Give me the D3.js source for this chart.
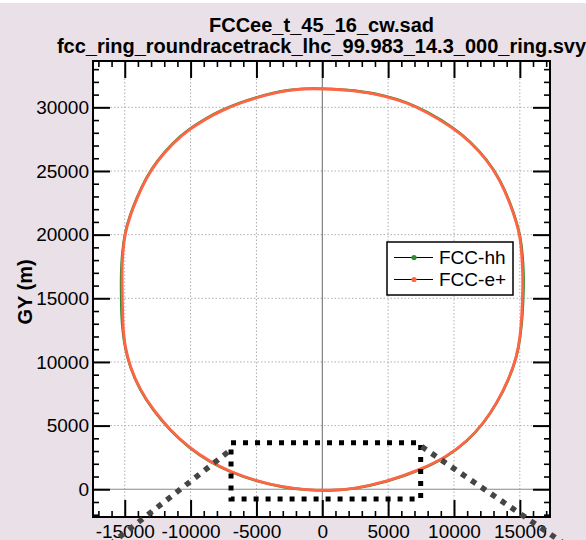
<!DOCTYPE html>
<html>
<head>
<meta charset="utf-8">
<script src="https://cdn.jsdelivr.net/npm/d3@7"></script>
<style>
  body { margin: 0; background: #fff; }
  text { font-family: "Liberation Sans", Arial, sans-serif; }
</style>
</head>
<body>
<div class="canva"></div>
<script>
// ring survey points (m), going clockwise from the top
const ePlusX = [0, 2370, 4900, 6420, 7930, 9950, 11210, 12480, 13490, 14250, 14760, 15010, 15140, 15220,
  15220, 15150, 15020, 14770, 14140, 13250, 12240, 10970, 9450, 7420, 4900, 2360, 580,
  -1180, -2960, -4980, -7010, -8530, -10050, -11570, -12830, -13840, -14600, -14980, -15110, -15160,
  -15190, -15210, -15160, -14980, -14600, -14090, -13330, -12570, -11310, -10050, -8780, -7520, -6250,
  -4980, -3720, -2450, -1440];
const ePlusY = [31460, 31350, 30870, 30350, 29640, 28370, 27310, 25890, 24310, 22480, 20900, 19850, 18540, 17000,
  15650, 13560, 11990, 10420, 8590, 6760, 5180, 3740, 2560, 1520, 600, 20, -100,
  -50, 160, 640, 1380, 2170, 3220, 4660, 6230, 7800, 9630, 11200, 12510, 13560,
  15650, 17000, 18540, 20130, 21460, 22840, 24510, 25730, 27240, 28300, 29140, 29800, 30340,
  30770, 31110, 31350, 31460];

const hhX = [0, 2400, 4930, 6450, 7960, 9980, 11240, 12500, 13510, 14270, 14780, 15040, 15200, 15290,
  15290, 15200, 15040, 14790, 14160, 13270, 12260, 10990, 9470, 7440, 4910, 2370, 580,
  -1180, -2970, -5000, -7030, -8550, -10070, -11590, -12850, -13860, -14620, -15000, -15160, -15250,
  -15280, -15280, -15200, -15000, -14620, -14110, -13350, -12590, -11330, -10080, -8810, -7550, -6280,
  -5000, -3740, -2460, -1440];
const hhY = [31480, 31370, 30900, 30380, 29670, 28400, 27330, 25910, 24330, 22500, 20920, 19870, 18540, 17000,
  15650, 13560, 11990, 10420, 8590, 6760, 5180, 3740, 2540, 1490, 570, 0, -110,
  -70, 140, 620, 1360, 2150, 3200, 4640, 6210, 7780, 9620, 11200, 12510, 13560,
  15650, 17000, 18540, 20140, 21480, 22860, 24530, 25750, 27270, 28320, 29160, 29830, 30360,
  30790, 31140, 31370, 31480];

const seriesNames = ["FCC-hh", "FCC-e+"];
const seriesColors = ["#2e8b2e", "#ff6545"];

const xMajor = [-15000, -10000, -5000, 0, 5000, 10000, 15000];
const yMajor = [0, 5000, 10000, 15000, 20000, 25000, 30000];

// zoom box and its guide lines (m)
const zoomBoxX = [-6930, 7470];
const zoomBoxY = [-760, 3660];
const guideLeft = [[-7180, 2910], [-18400, -6180]];
const guideRight = [[7550, 3350], [21090, -6190]];

const width = 586, height = 540;
const plot = {left: 93, right: 550, top: 61, bottom: 517};

const svg = d3.select(".canva").append("svg")
  .attr("width", width)
  .attr("height", height);

svg.append("rect").attr("x", 0).attr("y", 3).attr("width", width).attr("height", height - 3)
  .attr("fill", "#e9e1e7");

const x = d3.scaleLinear().domain([-17410, 17290]).range([plot.left, plot.right]);
const y = d3.scaleLinear().domain([-2180, 33640]).range([plot.bottom, plot.top]);

svg.append("rect")
  .attr("x", plot.left).attr("y", plot.top)
  .attr("width", plot.right - plot.left).attr("height", plot.bottom - plot.top)
  .attr("fill", "white");

// dotted grid
const grid = svg.append("g");
grid.selectAll(".gx").data(xMajor.filter(d => d !== 0)).enter().append("line")
  .attr("x1", d => x(d)).attr("x2", d => x(d))
  .attr("y1", plot.top).attr("y2", plot.bottom);
grid.selectAll(".gy").data(yMajor.filter(d => d !== 0)).enter().append("line")
  .attr("y1", d => y(d)).attr("y2", d => y(d))
  .attr("x1", plot.left).attr("x2", plot.right);
grid.selectAll("line")
  .attr("stroke", "#b3abb3")
  .attr("stroke-width", 1)
  .attr("stroke-dasharray", "1.5 2");

// zero lines
svg.append("line")
  .attr("x1", x(0)).attr("x2", x(0)).attr("y1", plot.top).attr("y2", plot.bottom)
  .attr("stroke", "#666").attr("stroke-width", 1);
svg.append("line")
  .attr("x1", plot.left).attr("x2", plot.right).attr("y1", y(0)).attr("y2", y(0))
  .attr("stroke", "#888").attr("stroke-width", 1.2);

// rings (b-spline through the read points irons out reading noise)
const ring = d3.line()
  .x(d => x(d[0]))
  .y(d => y(d[1]))
  .curve(d3.curveBasisClosed);

const rings = [d3.zip(hhX, hhY), d3.zip(ePlusX, ePlusY)];
svg.selectAll(".ring").data(rings).enter().append("path")
  .attr("class", "ring")
  .attr("d", ring)
  .attr("fill", "none")
  .attr("stroke", (d, i) => seriesColors[i])
  .attr("stroke-width", (d, i) => i === 0 ? 2.6 : 2.8);

// legend
const legend = svg.append("g").attr("transform", "translate(387,242)");
legend.append("rect")
  .attr("width", 126).attr("height", 53)
  .attr("fill", "white").attr("stroke", "black").attr("stroke-width", 1.5);
const rows = legend.selectAll(".row").data(seriesNames).enter().append("g")
  .attr("transform", (d, i) => `translate(0,${15.5 + i * 22})`);
rows.append("line").attr("x1", 7).attr("x2", 46).attr("stroke", "black").attr("stroke-width", 1);
rows.append("circle").attr("cx", 27).attr("r", 2.6).attr("fill", (d, i) => seriesColors[i]);
rows.append("text")
  .attr("x", 52).attr("dy", "0.35em")
  .attr("font-size", 19)
  .text(d => d);

// ticks on all four sides, pointing in
function styleAxis(g, w) {
  g.select(".domain").remove();
  g.selectAll(".tick line").attr("stroke", "black").attr("stroke-width", w);
  g.selectAll("text")
    .attr("font-family", "'Liberation Sans', Arial, sans-serif")
    .attr("font-size", 19)
    .attr("fill", "black");
}
const plain = d => String(d);
const xMinor = d3.range(-17000, 17001, 1000).filter(d => d % 5000 !== 0);
const yMinor = d3.range(-2000, 33001, 1000).filter(d => d % 5000 !== 0);

svg.append("g").attr("transform", `translate(0,${plot.bottom})`)
  .call(d3.axisBottom(x).tickValues(xMajor).tickSize(-17).tickPadding(7.5).tickFormat(plain))
  .call(g => styleAxis(g, 2));
svg.append("g").attr("transform", `translate(0,${plot.bottom})`)
  .call(d3.axisBottom(x).tickValues(xMinor).tickSize(-6).tickFormat(""))
  .call(g => styleAxis(g, 1.6));
svg.append("g").attr("transform", `translate(0,${plot.top})`)
  .call(d3.axisTop(x).tickValues(xMajor).tickSize(-17).tickFormat(""))
  .call(g => styleAxis(g, 2));
svg.append("g").attr("transform", `translate(0,${plot.top})`)
  .call(d3.axisTop(x).tickValues(xMinor).tickSize(-6).tickFormat(""))
  .call(g => styleAxis(g, 1.6));
svg.append("g").attr("transform", `translate(${plot.left},0)`)
  .call(d3.axisLeft(y).tickValues(yMajor).tickSize(-17).tickPadding(4).tickFormat(plain))
  .call(g => styleAxis(g, 2));
svg.append("g").attr("transform", `translate(${plot.left},0)`)
  .call(d3.axisLeft(y).tickValues(yMinor).tickSize(-6).tickFormat(""))
  .call(g => styleAxis(g, 1.6));
svg.append("g").attr("transform", `translate(${plot.right},0)`)
  .call(d3.axisRight(y).tickValues(yMajor).tickSize(-17).tickFormat(""))
  .call(g => styleAxis(g, 2));
svg.append("g").attr("transform", `translate(${plot.right},0)`)
  .call(d3.axisRight(y).tickValues(yMinor).tickSize(-6).tickFormat(""))
  .call(g => styleAxis(g, 1.6));

// frame
svg.append("rect")
  .attr("x", plot.left).attr("y", plot.top)
  .attr("width", plot.right - plot.left).attr("height", plot.bottom - plot.top)
  .attr("fill", "none").attr("stroke", "black").attr("stroke-width", 2);

// titles
svg.append("text")
  .attr("x", (plot.left + plot.right) / 2).attr("y", 32)
  .attr("text-anchor", "middle").attr("font-size", 20).attr("font-weight", "bold")
  .text("FCCee_t_45_16_cw.sad");
svg.append("text")
  .attr("x", (plot.left + plot.right) / 2).attr("y", 53)
  .attr("text-anchor", "middle").attr("font-size", 20).attr("font-weight", "bold")
  .text("fcc_ring_roundracetrack_lhc_99.983_14.3_000_ring.svy");
svg.append("text")
  .attr("transform", "translate(32,292) rotate(-90)")
  .attr("text-anchor", "middle").attr("font-size", 20).attr("font-weight", "bold")
  .text("GY (m)");

// zoom box
const box = [[zoomBoxX[0], zoomBoxY[1]], [zoomBoxX[1], zoomBoxY[1]],
             [zoomBoxX[1], zoomBoxY[0]], [zoomBoxX[0], zoomBoxY[0]]];
svg.append("path")
  .attr("d", d3.line().x(d => x(d[0])).y(d => y(d[1]))(box) + "Z")
  .attr("fill", "none").attr("stroke", "black")
  .attr("stroke-width", 5).attr("stroke-dasharray", "5 7");

svg.selectAll(".guide").data([guideLeft, guideRight]).enter().append("path")
  .attr("class", "guide")
  .attr("d", d3.line().x(d => x(d[0])).y(d => y(d[1])))
  .attr("fill", "none").attr("stroke", "#454545")
  .attr("stroke-width", 5.5).attr("stroke-dasharray", "5.5 6.5");
</script>
</body>
</html>
